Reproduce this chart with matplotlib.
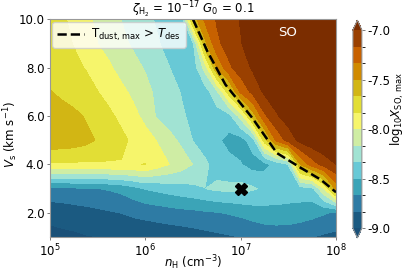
import numpy as np
import matplotlib
matplotlib.use("Agg")
import matplotlib.pyplot as plt
from matplotlib.colors import ListedColormap, BoundaryNorm

plt.rcParams['axes.unicode_minus'] = False

# grid: log10 nH (columns) and shock velocity (rows)
log_nH = [5.0, 5.125, 5.25, 5.375, 5.5, 5.625, 5.75, 5.875, 6.0, 6.125, 6.25, 6.375, 6.5,
          6.625, 6.75, 6.875, 7.0, 7.125, 7.25, 7.375, 7.5, 7.625, 7.75, 7.875, 8.0]
Vs = [1, 2, 3, 4, 5, 6, 7, 8, 9, 10]

# log10 X(SO) max, one row per Vs value (columns follow log_nH)
row_v1 = [-9.05, -9.04, -9.03, -9.01, -9.00, -8.99, -8.98, -8.97, -8.96, -8.95, -8.94, -8.93, -8.91,
          -8.89, -8.87, -8.85, -8.83, -8.81, -8.79, -8.78, -8.78, -8.80, -8.83, -8.86, -8.88]
row_v2 = [-8.95, -8.93, -8.91, -8.89, -8.87, -8.85, -8.83, -8.80, -8.78, -8.76, -8.74, -8.72, -8.71,
          -8.69, -8.675, -8.655, -8.63, -8.59, -8.56, -8.55, -8.56, -8.58, -8.61, -8.65, -8.69]
row_v3 = [-8.70, -8.70, -8.69, -8.68, -8.67, -8.65, -8.62, -8.56, -8.49, -8.46, -8.43, -8.40, -8.37,
          -8.335, -8.30, -8.29, -8.28, -8.31, -8.37, -8.40, -8.41, -8.40, -8.38, -8.00, -7.45]
row_v4 = [-7.86, -7.86, -7.86, -7.86, -7.855, -7.85, -7.845, -7.84, -7.83, -7.92, -8.00, -8.08, -8.17,
          -8.30, -8.40, -8.45, -8.49, -8.57, -8.55, -8.45, -8.33, -7.50, -7.25, -7.10, -7.00]
row_v5 = [-7.55, -7.56, -7.58, -7.62, -7.68, -7.74, -7.79, -7.87, -7.93, -8.01, -8.11, -8.20, -8.34,
          -8.42, -8.47, -8.55, -8.57, -8.42, -7.75, -7.30, -7.10, -6.95, -6.88, -6.85, -6.83]
row_v6 = [-7.58, -7.60, -7.63, -7.68, -7.74, -7.80, -7.88, -7.95, -8.05, -8.19, -8.25, -8.31, -8.37,
          -8.40, -8.42, -8.40, -8.10, -7.60, -7.20, -7.02, -6.92, -6.87, -6.84, -6.82, -6.81]
row_v7 = [-7.66, -7.70, -7.74, -7.78, -7.83, -7.90, -7.96, -8.04, -8.12, -8.20, -8.27, -8.34, -8.38,
          -8.42, -8.20, -7.75, -7.30, -7.12, -6.97, -6.90, -6.86, -6.84, -6.82, -6.81, -6.80]
row_v8 = [-7.72, -7.76, -7.80, -7.84, -7.92, -7.98, -8.06, -8.12, -8.18, -8.25, -8.33, -8.40, -8.43,
          -8.10, -7.50, -7.20, -7.08, -6.98, -6.90, -6.86, -6.84, -6.82, -6.81, -6.80, -6.80]
row_v9 = [-7.74, -7.79, -7.84, -7.92, -8.00, -8.06, -8.13, -8.19, -8.25, -8.32, -8.38, -8.42, -8.36,
          -7.55, -7.20, -7.10, -7.01, -6.92, -6.87, -6.84, -6.82, -6.81, -6.80, -6.80, -6.80]
row_v10 = [-7.77, -7.81, -7.87, -7.95, -8.04, -8.10, -8.17, -8.22, -8.30, -8.35, -8.40, -8.46, -7.60,
           -7.30, -7.15, -7.06, -6.99, -6.92, -6.88, -6.85, -6.83, -6.82, -6.81, -6.80, -6.80]

# T_dust,max > T_des boundary
dash_logn = [6.50, 6.65, 6.84, 7.12, 7.38, 7.63, 7.84, 8.0]
dash_vs = [10.0, 8.68, 7.30, 5.93, 4.47, 3.86, 3.37, 2.85]

# marked model
mark_logn = [7.0]
mark_vs = [3.0]

xticks = [5, 6, 7, 8]
xticklabels = [r'$10^{5}$', r'$10^{6}$', r'$10^{7}$', r'$10^{8}$']
yticks = [2, 4, 6, 8, 10]
yticklabels = ['2.0', '4.0', '6.0', '8.0', '10.0']
cbticks = [-9.0, -8.5, -8.0, -7.5, -7.0]
cbticklabels = ['-9.0', '-8.5', '-8.0', '-7.5', '-7.0']

band_colors = ['#1b5a81', '#2e7ba4', '#3ba4b7', '#68c9d6', '#a1e3d3', '#cfeda4',
               '#f6f56b', '#e2de35', '#d2b614', '#d08a00', '#c76100', '#9a4000']
levels = np.linspace(-9.0, -7.0, 13)
cmap = ListedColormap(band_colors)
cmap.set_under('#1a5078')
cmap.set_over('#7b2d00')
norm = BoundaryNorm(levels, cmap.N)

Z = np.array([row_v1, row_v2, row_v3, row_v4, row_v5,
              row_v6, row_v7, row_v8, row_v9, row_v10])
X, Y = np.meshgrid(log_nH, Vs)

fs = 8.5
fig = plt.figure(figsize=(4.07, 2.72), dpi=100)
ax = fig.add_axes([0.1229, 0.1287, 0.7027, 0.8003])
cs = ax.contourf(X, Y, Z, levels=levels, cmap=cmap, norm=norm, extend='both')

ax.plot(dash_logn, dash_vs, ls='--', color='black', lw=1.8,
        label=r'T$_{\rm dust,\,max}$ > $T_{\rm des}$')
ax.plot(mark_logn, mark_vs, marker='X', color='black', ms=9, ls='none')

ax.set_xlim(5, 8)
ax.set_ylim(1, 10)
ax.set_xticks(xticks)
ax.set_xticklabels(xticklabels, fontsize=fs)
ax.set_yticks(yticks)
ax.set_yticklabels(yticklabels, fontsize=fs)
ax.tick_params(length=2.5, pad=1.5, width=0.6, color='#666666')

ax.set_xlabel(r'$n_{\rm H}$ (cm$^{-3}$)', fontsize=fs)
ax.xaxis.label.set_va('center')
ax.xaxis.set_label_coords(0.5, -0.118)
ax.set_ylabel(r'$V_{\rm s}$ (km s$^{-1}$)', fontsize=fs)
ax.yaxis.label.set_va('center')
ax.yaxis.set_label_coords(-0.138, 0.47)

ax.text(0.5, 1.043, r'$\zeta_{\rm H_2}$ = $10^{-17}$ $G_0$ = 0.1', fontsize=fs,
        ha='center', va='center', transform=ax.transAxes)
for s in ax.spines.values():
    s.set_color('#999999')
    s.set_linewidth(0.8)

ax.text(0.83, 0.94, 'SO', color='white', fontsize=9.5, ha='center', va='center',
        transform=ax.transAxes)

leg = ax.legend(loc='upper left', fontsize=fs, handlelength=2.3,
                borderaxespad=0.2, borderpad=0.4, handletextpad=0.6)

cax = fig.add_axes([0.867, 0.125, 0.0221, 0.801])
cb = fig.colorbar(cs, cax=cax, ticks=cbticks)
cb.ax.set_yticklabels(cbticklabels, fontsize=fs)
cb.ax.tick_params(length=2.5, pad=1.5, width=0.6, color='#666666')
cb.set_label(r'log$_{10}X_{\rm SO,\,max}$', fontsize=fs)
cb.ax.yaxis.label.set_va('center')
cb.ax.yaxis.set_label_coords(5.0, 0.60)
cb.outline.set_edgecolor('#999999')
cb.outline.set_linewidth(0.8)

fig.savefig('out.png', dpi=100)
